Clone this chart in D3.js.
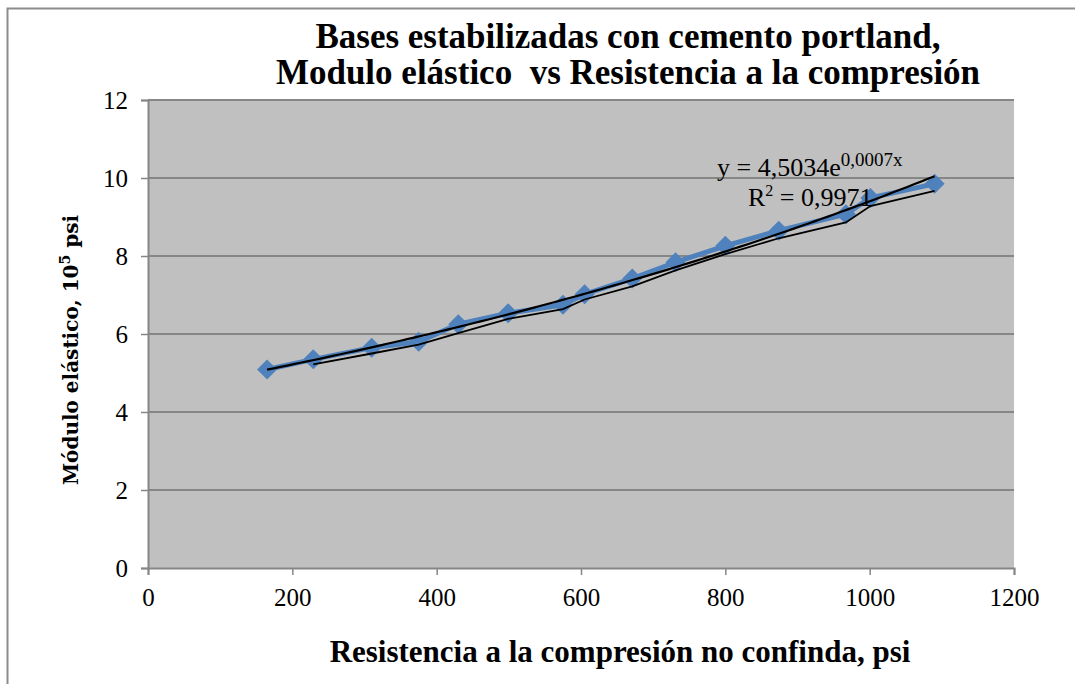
<!DOCTYPE html>
<html>
<head>
<meta charset="utf-8">
<script src="https://cdn.jsdelivr.net/npm/d3@7"></script>
<style>
  body { margin: 0; background: #fff; }
  svg text { font-family: "Liberation Serif", serif; white-space: pre; }
</style>
</head>
<body>
<div id="chart"></div>
<script>
// compresion no confinada (psi) y modulo elastico (10^5 psi)
const resistencia = [165, 229, 310, 375, 430, 499, 575, 605, 671, 731, 800, 874, 967, 1001, 1090];
const modulo = [5.09, 5.35, 5.65, 5.80, 6.25, 6.53, 6.75, 7.02, 7.42, 7.84, 8.26, 8.65, 9.07, 9.49, 9.85];
const xTicks = [0, 200, 400, 600, 800, 1000, 1200];
const yTicks = [0, 2, 4, 6, 8, 10, 12];
const titleLines = ['Bases estabilizadas con cemento portland,', 'Modulo elástico  vs Resistencia a la compresión'];

document.addEventListener('DOMContentLoaded', function() {
    const data = resistencia.map((x, i) => ({ x: x, y: modulo[i] }));

    const width = 1075;
    const height = 684;
    const margin = { top: 100, right: 60, bottom: 116, left: 148 };

    const svg = d3.select('#chart')
        .append('svg')
        .attr('width', width)
        .attr('height', height);

    // borde del grafico
    svg.append('rect')
        .attr('x', 7.5).attr('y', 8.5)
        .attr('width', width + 10).attr('height', height + 10)
        .attr('fill', 'none')
        .attr('stroke', '#8c8c8c')
        .attr('stroke-width', 2);

    const x = d3.scaleLinear()
        .domain([0, 1200])
        .range([margin.left, width - margin.right - 1]);

    const y = d3.scaleLinear()
        .domain([0, 12])
        .range([height - margin.bottom, margin.top]);

    svg.append('rect')
        .attr('x', x(0)).attr('y', y(12))
        .attr('width', x(1200) - x(0))
        .attr('height', y(0) - y(12))
        .attr('fill', '#c0c0c0');

    // lineas de cuadricula
    svg.append('g')
        .selectAll('line')
        .data(yTicks.filter(d => d > 0))
        .enter().append('line')
        .attr('x1', x(0)).attr('x2', x(1200))
        .attr('y1', d => y(d)).attr('y2', d => y(d))
        .attr('stroke', '#868686')
        .attr('stroke-width', 2);

    const xAxis = svg.append('g')
        .attr('transform', `translate(0,${y(0)})`)
        .call(d3.axisBottom(x).tickValues(xTicks).tickSize(7).tickPadding(13).tickFormat(d3.format('d')));

    const yAxis = svg.append('g')
        .attr('transform', `translate(${x(0)},0)`)
        .call(d3.axisLeft(y).tickValues(yTicks).tickSize(7).tickPadding(13).tickFormat(d3.format('d')));

    [xAxis, yAxis].forEach(g => {
        g.select('.domain').attr('stroke', '#868686').attr('stroke-width', 2);
        g.selectAll('.tick line').attr('stroke', '#868686').attr('stroke-width', 1.5);
        g.selectAll('.tick text')
            .attr('fill', '#000')
            .style('font-family', '"Liberation Serif", serif')
            .style('font-size', '25px');
    });
    yAxis.selectAll('.tick text').attr('dy', '0.35em');

    // serie de datos
    const line = d3.line()
        .x(d => x(d.x))
        .y(d => y(d.y));

    svg.append('path')
        .datum(data)
        .attr('fill', 'none')
        .attr('stroke', '#4f81bd')
        .attr('stroke-width', 5)
        .attr('d', line);

    svg.selectAll('.dot')
        .data(data)
        .enter().append('path')
        .attr('class', 'dot')
        .attr('transform', d => `translate(${x(d.x)},${y(d.y)})`)
        .attr('d', 'M0,-10L10,0L0,10L-10,0Z')
        .attr('fill', '#4f81bd');

    // linea de tendencia exponencial (minimos cuadrados sobre ln y)
    const n = data.length;
    const mx = d3.mean(data, d => d.x);
    const mly = d3.mean(data, d => Math.log(d.y));
    const b = d3.sum(data, d => (d.x - mx) * (Math.log(d.y) - mly)) / d3.sum(data, d => (d.x - mx) * (d.x - mx));
    const a = Math.exp(mly - b * mx);
    const xs = d3.range(0, 101).map(i => resistencia[0] + (resistencia[n - 1] - resistencia[0]) * i / 100);

    svg.append('path')
        .datum(xs.map(v => ({ x: v, y: a * Math.exp(b * v) })))
        .attr('fill', 'none')
        .attr('stroke', '#000')
        .attr('stroke-width', 2.2)
        .attr('d', line);

    // media movil de 2 periodos
    const movil = data.slice(1).map((d, i) => ({ x: d.x, y: (d.y + data[i].y) / 2 }));
    svg.append('path')
        .datum(movil)
        .attr('fill', 'none')
        .attr('stroke', '#000')
        .attr('stroke-width', 1.8)
        .attr('d', line);

    // ecuacion
    const eq = svg.append('text')
        .attr('x', 717).attr('y', 176)
        .style('font-size', '26px');
    eq.append('tspan').text('y = 4,5034e');
    eq.append('tspan').attr('dy', -10).style('font-size', '19px').text('0,0007x');

    const r2 = svg.append('text')
        .attr('x', 748).attr('y', 206)
        .style('font-size', '26px');
    r2.append('tspan').text('R');
    r2.append('tspan').attr('dy', -10).style('font-size', '16px').text('2');
    r2.append('tspan').attr('dy', 10).text(' = 0,9971');

    // titulo
    svg.append('g').selectAll('text')
        .data(titleLines)
        .enter().append('text')
        .attr('x', 628)
        .attr('y', (d, i) => 48 + i * 36)
        .attr('text-anchor', 'middle')
        .style('font-weight', 'bold')
        .style('font-size', '35px')
        .text(d => d);

    svg.append('text')
        .attr('x', 620).attr('y', 662)
        .attr('text-anchor', 'middle')
        .style('font-weight', 'bold')
        .style('font-size', '31px')
        .text('Resistencia a la compresión no confinda, psi');

    const yl = svg.append('text')
        .attr('transform', 'translate(78,350) rotate(-90)')
        .attr('text-anchor', 'middle')
        .style('font-family', '"DejaVu Serif", serif')
        .style('font-weight', 'bold')
        .style('font-size', '20px');
    yl.append('tspan').text('Módulo elástico, 10');
    yl.append('tspan').attr('dy', -8).style('font-size', '14px').text('5');
    yl.append('tspan').attr('dy', 8).text(' psi');
});
</script>
</body>
</html>
